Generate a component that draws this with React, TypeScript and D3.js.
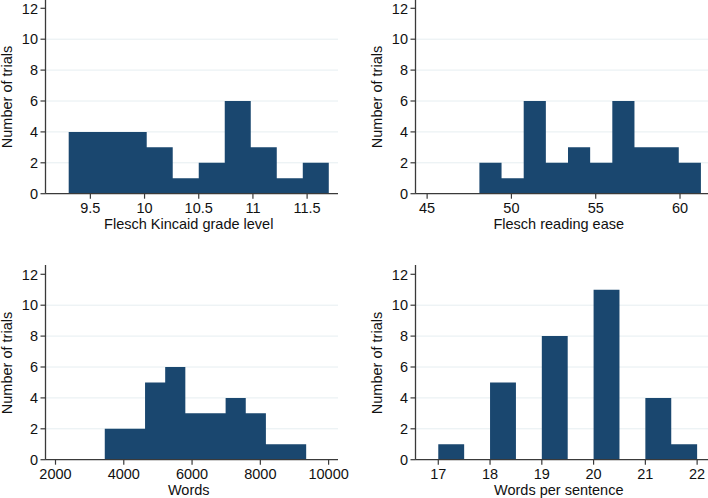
import React from "react";
import * as d3 from "d3";

// ---- Data ----
const fkCounts = [4, 4, 4, 3, 1, 2, 6, 3, 1, 2];
const fkStart = 9.3;
const fkWidth = 0.24;
const fkTicks = [9.5, 10, 10.5, 11, 11.5];

const freCounts = [2, 1, 6, 2, 3, 2, 6, 3, 3, 2];
const freStart = 48.1;
const freWidth = 1.314;
const freTicks = [45, 50, 55, 60];

const wordsCounts = [2, 2, 5, 6, 3, 3, 4, 3, 1, 1];
const wordsStart = 3443;
const wordsWidth = 590;
const wordsTicks = [2000, 4000, 6000, 8000, 10000];

const wpsCounts = [1, 0, 5, 0, 8, 0, 11, 0, 4, 1];
const wpsStart = 17;
const wpsWidth = 0.5;
const wpsTicks = [17, 18, 19, 20, 21, 22];

const yTicks = [0, 2, 4, 6, 8, 10, 12];
const yTitle = "Number of trials";

const panels = [
  { title: "Flesch Kincaid grade level", counts: fkCounts, start: fkStart, width: fkWidth, ticks: fkTicks, domain: [9.086, 11.785], left: 45.5, right: 338, bottom: 193.7 },
  { title: "Flesch reading ease", counts: freCounts, start: freStart, width: freWidth, ticks: freTicks, domain: [44.31, 61.66], left: 415.5, right: 708, bottom: 193.7 },
  { title: "Words", counts: wordsCounts, start: wordsStart, width: wordsWidth, ticks: wordsTicks, domain: [1707, 10275], left: 45.5, right: 338, bottom: 459.7 },
  { title: "Words per sentence", counts: wpsCounts, start: wpsStart, width: wpsWidth, ticks: wpsTicks, domain: [16.56, 22.21], left: 415.5, right: 708, bottom: 459.7 },
];

const BAR = "#1a476f";
const GRID = "#e6eef1";
const AXIS = "#3a3a3a";
const FONT = "'Liberation Sans', Arial, sans-serif";
const FS = 14.5;

function Panel({ p }: { p: any }) {
  const x = d3.scaleLinear().domain(p.domain).range([p.left, p.right]);
  const y = d3.scaleLinear().domain([0, 12]).range([p.bottom, p.bottom - 185.4]);
  const top = y(12) - 9.3;
  const bins = p.counts.map((c: number, i: number) => ({
    x0: p.start + i * p.width,
    x1: p.start + (i + 1) * p.width,
    c,
  }));
  const path = d3.path();
  bins
    .filter((b: any) => b.c > 0)
    .forEach((b: any) => {
      path.rect(x(b.x0), y(b.c), x(b.x1) - x(b.x0), y(0) - y(b.c));
    });
  return (
    <g>
      {yTicks.filter((t) => t > 0 && t < 12).map((t) => (
        <line key={"g" + t} x1={p.left} x2={p.right} y1={y(t)} y2={y(t)} stroke={GRID} strokeWidth={1} />
      ))}
      <path d={path.toString()} fill={BAR} stroke="none" />
      <line x1={p.left} x2={p.left} y1={top} y2={y(0)} stroke={AXIS} strokeWidth={1.3} />
      <line x1={p.left} x2={p.right} y1={y(0)} y2={y(0)} stroke={AXIS} strokeWidth={1.3} />
      {yTicks.map((t) => (
        <g key={"y" + t}>
          <line x1={p.left - 5} x2={p.left} y1={y(t)} y2={y(t)} stroke={AXIS} strokeWidth={1.2} />
          <text x={p.left - 7.5} y={y(t)} dy="0.36em" textAnchor="end" fontSize={FS} fontFamily={FONT} fill="#111">
            {t}
          </text>
        </g>
      ))}
      {p.ticks.map((t: number) => (
        <g key={"x" + t}>
          <line x1={x(t)} x2={x(t)} y1={y(0)} y2={y(0) + 5} stroke={AXIS} strokeWidth={1.2} />
          <text x={x(t)} y={y(0) + 19.5} textAnchor="middle" fontSize={FS} fontFamily={FONT} fill="#111">
            {t}
          </text>
        </g>
      ))}
      <text x={(p.left + p.right) / 2 - 3} y={y(0) + 34.8} textAnchor="middle" fontSize={FS} fontFamily={FONT} fill="#111">
        {p.title}
      </text>
      <text
        transform={`translate(${p.left - 34},${(y(0) + y(12)) / 2 - 4}) rotate(-90)`}
        textAnchor="middle"
        fontSize={FS}
        fontFamily={FONT}
        fill="#111"
      >
        {yTitle}
      </text>
    </g>
  );
}

export default function App() {
  return (
    <svg width={708} height={498} style={{ position: "absolute", left: 0, top: 0, background: "#fff" }}>
      <rect width={708} height={498} fill="#fff" />
      {panels.map((p, i) => (
        <Panel key={i} p={p} />
      ))}
    </svg>
  );
}
